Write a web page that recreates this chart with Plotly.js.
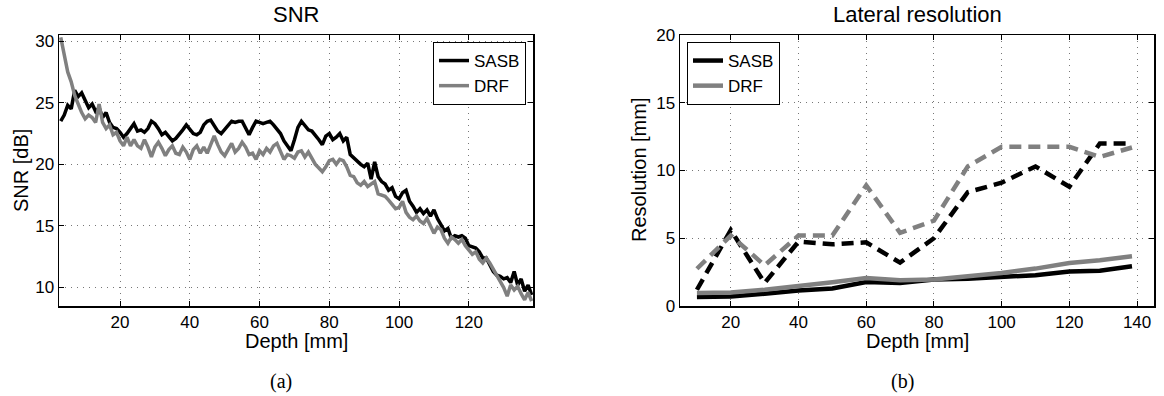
<!DOCTYPE html>
<html>
<head>
<meta charset="utf-8">
<script src="https://cdn.plot.ly/plotly-3.0.1.min.js"></script>
<style>
html,body{margin:0;padding:0;background:#fff;}
#chart{width:1164px;height:396px;}
</style>
</head>
<body>
<div id="chart"></div>
<script>
// ---------- Panel (a): SNR vs depth ----------
const snrDepth = [3,4,5,6,7,8,9,10,11,12,13,14,15,16,17,18,19,20,21,22,23,24,25,26,27,28,29,30,31,32,33,34,35,36,37,38,39,40,41,42,43,44,45,46,47,48,49,50,51,52,53,54,55,56,57,58,59,60,61,62,63,64,65,66,67,68,69,70,71,72,73,74,75,76,77,78,79,80,81,82,83,84,85,86,87,88,89,90,91,92,93,94,95,96,97,98,99,100,101,102,103,104,105,106,107,108,109,110,111,112,113,114,115,116,117,118,119,120,121,122,123,124,125,126,127,128,129,130,131,132,133,134,135,136,137,138];
const snrSASB = [23.5,24.0,24.8,24.5,26.0,25.5,25.8,25.2,24.6,24.9,24.3,24.6,23.8,24.2,23.4,23.0,22.9,22.6,22.2,22.5,22.9,23.3,22.7,22.8,22.6,22.9,23.5,23.3,22.9,22.4,22.6,22.3,21.9,22.1,22.4,22.8,23.2,22.9,22.5,22.4,22.6,23.2,23.5,23.6,23.2,22.7,22.5,22.8,23.2,23.5,23.4,23.5,23.5,22.9,22.4,23.0,23.5,23.4,23.3,23.4,23.5,23.2,22.9,22.5,21.9,21.5,21.1,22.0,23.0,23.5,23.2,22.8,22.7,22.4,22.0,21.6,22.3,22.5,22.0,22.2,22.5,21.9,22.2,20.8,20.5,20.3,20.0,19.8,20.1,18.8,20.2,19.0,18.6,18.4,17.9,18.1,17.4,17.2,17.7,17.9,17.0,16.6,16.1,16.4,16.0,16.3,15.8,16.3,15.6,15.1,14.6,14.8,14.0,14.2,14.1,14.2,14.0,13.4,13.3,13.2,12.9,12.4,12.4,11.8,11.3,11.0,10.9,10.7,10.8,10.4,11.3,10.2,10.7,9.7,10.2,9.4];
const snrDRF = [30.3,28.9,27.5,26.7,25.6,24.9,24.2,23.7,24.0,23.8,23.4,24.9,23.4,22.9,23.2,22.4,22.6,21.9,21.5,22.2,21.5,22.0,21.5,21.3,22.0,21.4,20.6,21.4,21.8,21.3,20.7,21.2,21.5,20.9,20.8,21.4,21.0,20.4,21.2,21.5,20.9,21.4,20.9,21.6,22.3,21.6,21.0,20.7,21.2,21.7,21.0,21.3,21.8,21.4,20.8,20.9,20.4,21.1,20.8,21.3,21.0,21.5,21.7,21.0,20.4,20.8,20.7,20.5,21.0,21.1,20.6,21.0,20.5,20.0,19.7,19.4,19.8,20.3,20.4,20.0,20.4,20.3,19.8,19.1,19.0,18.5,18.3,18.6,18.2,18.4,18.6,17.6,17.5,17.4,17.1,16.7,16.4,16.5,17.0,16.1,15.7,15.5,15.8,15.4,15.2,15.6,15.0,14.4,14.9,14.7,14.0,13.6,14.1,13.9,13.6,13.9,13.4,13.0,12.7,12.9,12.3,12.0,12.4,12.0,11.5,11.0,10.5,10.0,9.3,10.2,9.8,10.1,9.5,9.0,9.6,8.9];

// ---------- Panel (b): Lateral resolution vs depth ----------
const resDepth = [10,20,30,40,50,60,70,80,90,100,110,120,129,138.5];
const resSASB = [0.67,0.7,0.9,1.15,1.3,1.77,1.7,1.95,2.02,2.15,2.27,2.55,2.6,2.93];
const resDRF = [0.96,1.0,1.2,1.45,1.75,2.07,1.9,1.95,2.17,2.44,2.76,3.18,3.38,3.67];
const resSASBdashed = [1.2,5.6,1.7,4.75,4.55,4.7,3.2,5.0,8.4,9.1,10.3,8.8,12.0,12.0];
const resDRFdashed = [2.75,5.2,3.0,5.2,5.2,8.9,5.4,6.3,10.3,11.75,11.75,11.75,11.0,11.7];

const seriesNames = ['SASB','DRF'];
const snrXTicks = [20,40,60,80,100,120];
const snrYTicks = [10,15,20,25,30];
const resXTicks = [20,40,60,80,100,120,140];
const resYTicks = [0,5,10,15,20];

const BLACK = '#000000', GRAY = '#808080';
const FONT = 'Liberation Sans, Arial, Helvetica, sans-serif';

const traces = [
  {x: snrDepth, y: snrSASB, name: seriesNames[0], type:'scatter', mode:'lines',
   line:{color:BLACK, width:3.5}, xaxis:'x', yaxis:'y', legend:'legend'},
  {x: snrDepth, y: snrDRF, name: seriesNames[1], type:'scatter', mode:'lines',
   line:{color:GRAY, width:3.5}, xaxis:'x', yaxis:'y', legend:'legend'},
  {x: resDepth, y: resSASBdashed, name: seriesNames[0]+' (dashed)', type:'scatter', mode:'lines', showlegend:false,
   line:{color:BLACK, width:4.5, dash:'12px,7px'}, xaxis:'x2', yaxis:'y2'},
  {x: resDepth, y: resDRFdashed, name: seriesNames[1]+' (dashed)', type:'scatter', mode:'lines', showlegend:false,
   line:{color:GRAY, width:4.5, dash:'12px,7px'}, xaxis:'x2', yaxis:'y2'},
  {x: resDepth, y: resSASB, name: seriesNames[0], type:'scatter', mode:'lines',
   line:{color:BLACK, width:4.5}, xaxis:'x2', yaxis:'y2', legend:'legend2'},
  {x: resDepth, y: resDRF, name: seriesNames[1], type:'scatter', mode:'lines',
   line:{color:GRAY, width:4.5}, xaxis:'x2', yaxis:'y2', legend:'legend2'}
];

function axisBase(extra){
  return Object.assign({
    showline:true, linecolor:'#000', linewidth:1.5, mirror:'allticks',
    ticks:'inside', ticklen:5, tickcolor:'#000', tickwidth:1,
    showgrid:true, gridcolor:'#777', gridwidth:1, griddash:'1px,5px',
    zeroline:false, tickfont:{family:FONT, size:17, color:'#000'},
    tickmode:'array', fixedrange:true
  }, extra);
}

const W = 1164, H = 396;
const px = v => v / W;
const py = v => 1 - v / H;

const layout = {
  width: W, height: H,
  margin:{l:0, r:0, t:0, b:0},
  paper_bgcolor:'#fff', plot_bgcolor:'#fff',
  font:{family:FONT, color:'#000'},
  xaxis: axisBase({domain:[px(59), px(533)], range:[2.5,138.4], tickvals:snrXTicks, anchor:'y'}),
  yaxis: axisBase({domain:[py(306), py(35)], range:[8.5,30.5], tickvals:snrYTicks, anchor:'x'}),
  xaxis2: axisBase({domain:[px(680), px(1154)], range:[5,145], tickvals:resXTicks, anchor:'y2'}),
  yaxis2: axisBase({domain:[py(306), py(35)], range:[0,20], tickvals:resYTicks, anchor:'x2'}),
  legend: {x:px(526), xanchor:'right', y:py(42), yanchor:'top', bgcolor:'#fff',
    bordercolor:'#000', borderwidth:1, font:{family:FONT, size:17, color:'#000'}, tracegroupgap:0},
  legend2: {x:px(687), xanchor:'left', y:py(42), yanchor:'top', bgcolor:'#fff',
    bordercolor:'#000', borderwidth:1, font:{family:FONT, size:17, color:'#000'}, tracegroupgap:0},
  showlegend:true,
  annotations:[
    {text:'SNR', x:px(296), y:py(14), xref:'paper', yref:'paper', showarrow:false,
     font:{family:FONT, size:22}, xanchor:'center', yanchor:'middle'},
    {text:'Lateral resolution', x:px(917), y:py(14), xref:'paper', yref:'paper', showarrow:false,
     font:{family:FONT, size:22}, xanchor:'center', yanchor:'middle'},
    {text:'Depth [mm]', x:px(296), y:py(341), xref:'paper', yref:'paper', showarrow:false,
     font:{family:FONT, size:20}, xanchor:'center', yanchor:'middle'},
    {text:'Depth [mm]', x:px(917), y:py(341), xref:'paper', yref:'paper', showarrow:false,
     font:{family:FONT, size:20}, xanchor:'center', yanchor:'middle'},
    {text:'SNR [dB]', x:px(21), y:py(170), xref:'paper', yref:'paper', showarrow:false, textangle:-90,
     font:{family:FONT, size:20}, xanchor:'center', yanchor:'middle'},
    {text:'Resolution [mm]', x:px(639), y:py(170), xref:'paper', yref:'paper', showarrow:false, textangle:-90,
     font:{family:FONT, size:20}, xanchor:'center', yanchor:'middle'},
    {text:'(a)', x:px(281), y:py(381), xref:'paper', yref:'paper', showarrow:false,
     font:{family:'Liberation Serif, Times New Roman, serif', size:20}, xanchor:'center', yanchor:'middle'},
    {text:'(b)', x:px(902), y:py(381), xref:'paper', yref:'paper', showarrow:false,
     font:{family:'Liberation Serif, Times New Roman, serif', size:20}, xanchor:'center', yanchor:'middle'}
  ]
};

Plotly.newPlot('chart', traces, layout, {staticPlot:true, displayModeBar:false});
</script>
</body>
</html>
